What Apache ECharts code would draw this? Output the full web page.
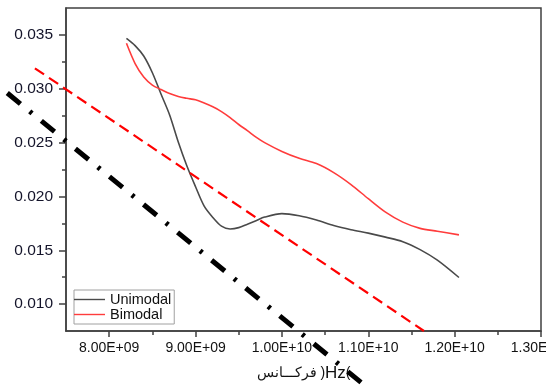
<!DOCTYPE html>
<html>
<head>
<meta charset="utf-8">
<script src="https://cdn.jsdelivr.net/npm/echarts@6/dist/echarts.min.js"></script>
<style>
  html, body { margin: 0; padding: 0; background: #fff; }
  #chart { width: 546px; height: 387px; }
</style>
</head>
<body>
<div id="chart"></div>
<script>
// frequency (Hz) samples
const freq = [8.2e9, 8.3e9, 8.4e9, 8.5e9, 8.6e9, 8.7e9, 8.8e9, 8.9e9, 9.0e9, 9.1e9,
  9.2e9, 9.3e9, 9.4e9, 9.5e9, 9.6e9, 9.7e9, 9.8e9, 10.0e9, 10.2e9, 10.4e9,
  10.6e9, 10.8e9, 11.0e9, 11.2e9, 11.4e9, 11.6e9, 11.8e9, 12.05e9];

const unimodal = [0.03468, 0.03401, 0.03304, 0.03149, 0.02951, 0.02756, 0.02505, 0.02282, 0.0209, 0.0191,
  0.01805, 0.01724, 0.01698, 0.0171, 0.01742, 0.01775, 0.01808, 0.0184, 0.0182, 0.0178,
  0.0173, 0.01691, 0.01659, 0.01622, 0.0158, 0.01506, 0.01408, 0.01247];

const bimodal = [0.03422, 0.03234, 0.03109, 0.03034, 0.02993, 0.02955, 0.02928, 0.02911, 0.02897, 0.02867,
  0.02832, 0.02788, 0.02732, 0.02668, 0.02611, 0.02551, 0.0250, 0.02418, 0.02354, 0.02305,
  0.02221, 0.0211, 0.01979, 0.01854, 0.01761, 0.01703, 0.01677, 0.01643];

// straight reference lines (end points), they run past the plot frame
const redDashLine = [[7.14e9, 0.0319], [11.645e9, 0.0075]];
const blackDashDotLine = [[6.82e9, 0.0296], [10.92e9, 0.0027]];

const xTickValues = [8e9, 9e9, 10e9, 11e9, 12e9, 13e9];
const xTickLabels = ['8.00E+09', '9.00E+09', '1.00E+10', '1.10E+10', '1.20E+10', '1.30E+10'];
const xMinorTicks = [8.5e9, 9.5e9, 10.5e9, 11.5e9, 12.5e9];

const yTickValues = [0.010, 0.015, 0.020, 0.025, 0.030, 0.035];
const yTickLabels = ['0.010', '0.015', '0.020', '0.025', '0.030', '0.035'];
const yMinorTicks = [0.0125, 0.0175, 0.0225, 0.0275, 0.0325];

const xTitleWord = 'فرکـــانس )';
const xTitleUnit = 'Hz';

const X_MIN = 7.5e9, X_MAX = 13e9;
const Y_MIN = 0.0075, Y_MAX = 0.0375;

const W = 546, H = 387;
const grid = { left: 66, right: 5, top: 8, bottom: 56 };

// a second, invisible grid over the whole canvas with the same scale,
// so the straight lines can run outside the frame
const xPerPx = (X_MAX - X_MIN) / (W - grid.left - grid.right);
const yPerPx = (Y_MAX - Y_MIN) / (H - grid.top - grid.bottom);
const fullX = [X_MIN - grid.left * xPerPx, X_MAX + grid.right * xPerPx];
const fullY = [Y_MIN - grid.bottom * yPerPx, Y_MAX + grid.top * yPerPx];

const pair = (xs, ys) => xs.map((x, i) => [x, ys[i]]);
const labelFor = (vals, labels) => (v) => {
  const i = vals.findIndex((t) => Math.abs(t - v) < Math.abs(t) * 1e-6);
  return i < 0 ? '' : labels[i];
};

const axisColor = '#404040';
const font = 'Liberation Sans, Arial, sans-serif';

const chart = echarts.init(document.getElementById('chart'));

chart.setOption({
  backgroundColor: '#fff',
  animation: false,
  grid: [
    Object.assign({
      show: true, borderColor: axisColor, borderWidth: 1.5, backgroundColor: 'transparent',
      containLabel: false, outerBoundsMode: 'none'
    }, grid),
    { left: 0, right: 0, top: 0, bottom: 0, show: false, containLabel: false, outerBoundsMode: 'none' }
  ],
  legend: {
    data: ['Unimodal', 'Bimodal'],
    orient: 'vertical',
    left: 74, top: 290,
    borderColor: '#a0a0a0', borderWidth: 1,
    padding: [2, 3, 2, 0],
    itemGap: 0,
    icon: 'rect',
    itemWidth: 31, itemHeight: 1.4,
    textStyle: { fontSize: 14.5, lineHeight: 14, color: '#111', fontFamily: font }
  },
  xAxis: [
    {
      type: 'value', min: X_MIN, max: X_MAX,
      name: '{a|' + xTitleWord + '}{b|' + xTitleUnit + '}{a|(}',
      nameLocation: 'middle', nameGap: 34,
      nameTextStyle: {
        color: '#111', fontFamily: font,
        rich: {
          a: { fontSize: 14, color: '#111', fontFamily: font },
          b: { fontSize: 17, color: '#111', fontFamily: font }
        }
      },
      axisLine: { show: true, lineStyle: { color: axisColor, width: 1.5 } },
      axisTick: { show: true, customValues: xTickValues, length: 6, lineStyle: { color: axisColor, width: 1.5 } },
      axisLabel: {
        customValues: xTickValues, margin: 10, fontSize: 14, color: '#111', fontFamily: font,
        hideOverlap: false,
        formatter: labelFor(xTickValues, xTickLabels)
      },
      splitLine: { show: false }
    },
    {
      type: 'value', min: X_MIN, max: X_MAX, position: 'bottom',
      axisLine: { show: false },
      axisTick: { show: true, customValues: xMinorTicks, length: 4, lineStyle: { color: axisColor, width: 1.5 } },
      axisLabel: { show: false },
      splitLine: { show: false }
    },
    { type: 'value', gridIndex: 1, min: fullX[0], max: fullX[1], show: false }
  ],
  yAxis: [
    {
      type: 'value', min: Y_MIN, max: Y_MAX,
      axisLine: { show: true, lineStyle: { color: axisColor, width: 1.5 } },
      axisTick: { show: true, customValues: yTickValues, length: 7, lineStyle: { color: axisColor, width: 1.5 } },
      axisLabel: {
        customValues: yTickValues, margin: 13, fontSize: 15.5, color: '#14142a', fontFamily: font,
        formatter: labelFor(yTickValues, yTickLabels)
      },
      splitLine: { show: false }
    },
    {
      type: 'value', min: Y_MIN, max: Y_MAX, position: 'left',
      axisLine: { show: false },
      axisTick: { show: true, customValues: yMinorTicks, length: 4, lineStyle: { color: axisColor, width: 1.5 } },
      axisLabel: { show: false },
      splitLine: { show: false }
    },
    { type: 'value', gridIndex: 1, min: fullY[0], max: fullY[1], show: false }
  ],
  series: [
    {
      name: 'Unimodal', type: 'line', smooth: 0.3, symbol: 'none',
      data: pair(freq, unimodal),
      itemStyle: { color: '#4a4a4a' },
      lineStyle: { color: '#4a4a4a', width: 1.6 }
    },
    {
      name: 'Bimodal', type: 'line', smooth: 0.3, symbol: 'none',
      data: pair(freq, bimodal),
      itemStyle: { color: '#ff3c3c' },
      lineStyle: { color: '#ff3c3c', width: 1.6 }
    },
    {
      name: 'red-dash', type: 'line', symbol: 'none', z: 3,
      xAxisIndex: 2, yAxisIndex: 2,
      data: redDashLine,
      lineStyle: { color: '#ff0000', width: 2.2, type: [11, 6] }
    },
    {
      name: 'black-dashdot', type: 'line', symbol: 'none', z: 4,
      xAxisIndex: 2, yAxisIndex: 2,
      data: blackDashDotLine,
      lineStyle: { color: '#000', width: 5, type: [17, 12, 3, 12] }
    }
  ]
});
</script>
</body>
</html>
